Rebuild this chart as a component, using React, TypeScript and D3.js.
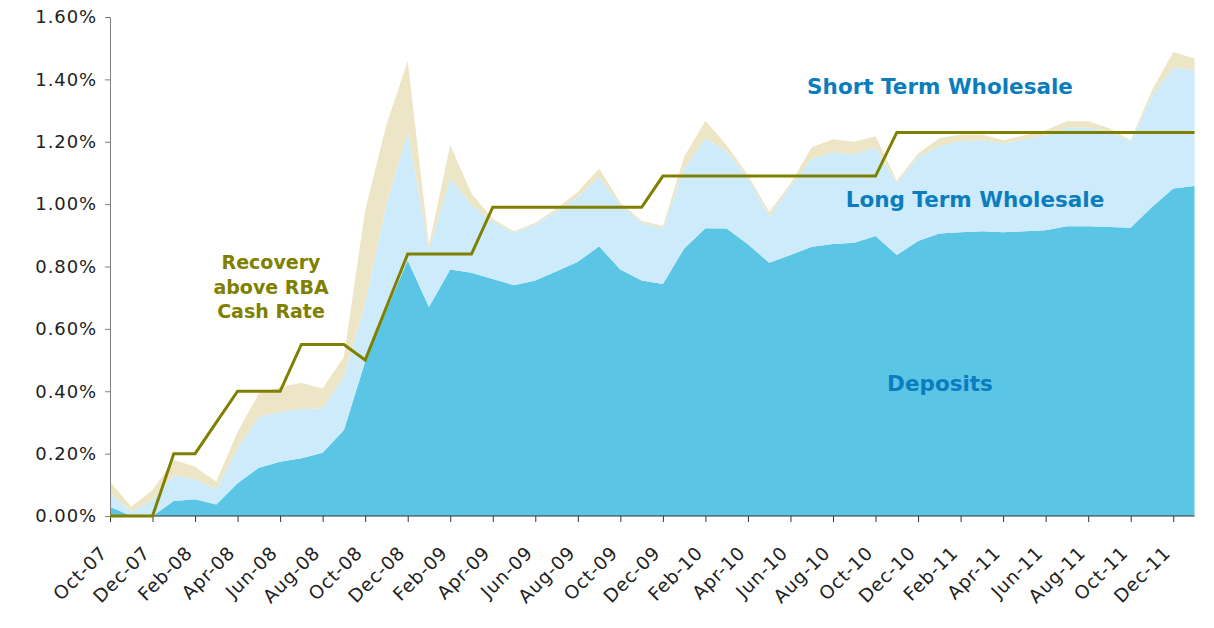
import * as d3 from "d3";
import React, { useEffect, useRef } from "react";

const months = [
  "Oct-07", "Nov-07", "Dec-07", "Jan-08", "Feb-08", "Mar-08", "Apr-08", "May-08",
  "Jun-08", "Jul-08", "Aug-08", "Sep-08", "Oct-08", "Nov-08", "Dec-08", "Jan-09",
  "Feb-09", "Mar-09", "Apr-09", "May-09", "Jun-09", "Jul-09", "Aug-09", "Sep-09",
  "Oct-09", "Nov-09", "Dec-09", "Jan-10", "Feb-10", "Mar-10", "Apr-10", "May-10",
  "Jun-10", "Jul-10", "Aug-10", "Sep-10", "Oct-10", "Nov-10", "Dec-10", "Jan-11",
  "Feb-11", "Mar-11", "Apr-11", "May-11", "Jun-11", "Jul-11", "Aug-11", "Sep-11",
  "Oct-11", "Nov-11", "Dec-11", "Jan-12",
];

const tickLabels = [
  "Oct-07", "Dec-07", "Feb-08", "Apr-08", "Jun-08", "Aug-08", "Oct-08", "Dec-08",
  "Feb-09", "Apr-09", "Jun-09", "Aug-09", "Oct-09", "Dec-09", "Feb-10", "Apr-10",
  "Jun-10", "Aug-10", "Oct-10", "Dec-10", "Feb-11", "Apr-11", "Jun-11", "Aug-11",
  "Oct-11", "Dec-11",
];

// % points, stacked bottom to top
const deposits = [
  0.030, 0.000, 0.000, 0.048, 0.054, 0.037, 0.105, 0.155, 0.174, 0.185, 0.203, 0.276,
  0.495, 0.660, 0.820, 0.670, 0.790, 0.780, 0.760, 0.740, 0.755, 0.785, 0.815, 0.865,
  0.790, 0.755, 0.744, 0.858, 0.923, 0.922, 0.871, 0.812, 0.837, 0.863, 0.872, 0.876,
  0.898, 0.837, 0.882, 0.906, 0.910, 0.913, 0.910, 0.913, 0.916, 0.929, 0.929, 0.927,
  0.924, 0.991, 1.050, 1.058,
];

const longTermWholesale = [
  0.043, 0.014, 0.051, 0.083, 0.064, 0.049, 0.112, 0.163, 0.160, 0.158, 0.142, 0.171,
  0.187, 0.340, 0.412, 0.185, 0.292, 0.217, 0.183, 0.168, 0.180, 0.193, 0.208, 0.223,
  0.208, 0.185, 0.178, 0.256, 0.288, 0.246, 0.214, 0.148, 0.221, 0.283, 0.293, 0.284,
  0.284, 0.231, 0.268, 0.280, 0.292, 0.292, 0.284, 0.294, 0.305, 0.317, 0.317, 0.305,
  0.276, 0.358, 0.388, 0.371,
];

const shortTermWholesale = [
  0.037, 0.016, 0.032, 0.049, 0.040, 0.024, 0.053, 0.075, 0.080, 0.084, 0.064, 0.064,
  0.299, 0.255, 0.227, 0.015, 0.107, 0.037, 0.009, 0.005, 0.005, 0.008, 0.016, 0.026,
  0.007, 0.007, 0.008, 0.038, 0.056, 0.021, 0.008, 0.015, 0.008, 0.036, 0.043, 0.040,
  0.036, 0.007, 0.012, 0.025, 0.021, 0.018, 0.011, 0.014, 0.016, 0.020, 0.020, 0.011,
  0.005, 0.016, 0.050, 0.038,
];

const rbaRecovery = [
  0.00, 0.00, 0.00, 0.20, 0.20, 0.30, 0.40, 0.40, 0.40, 0.55, 0.55, 0.55,
  0.50, 0.67, 0.84, 0.84, 0.84, 0.84, 0.99, 0.99, 0.99, 0.99, 0.99, 0.99,
  0.99, 0.99, 1.09, 1.09, 1.09, 1.09, 1.09, 1.09, 1.09, 1.09, 1.09, 1.09,
  1.09, 1.23, 1.23, 1.23, 1.23, 1.23, 1.23, 1.23, 1.23, 1.23, 1.23, 1.23,
  1.23, 1.23, 1.23, 1.23,
];

const seriesKeys = ["deposits", "longTerm", "shortTerm"];
const seriesColors = ["#5bc5e6", "#cdebfb", "#ece6c6"];

const App: React.FC = () => {
  const ref = useRef<SVGSVGElement>(null);

  useEffect(() => {
    const width = 1214;
    const height = 628;
    const left = 110;
    const right = 1194.5;
    const top = 17;
    const bottom = 516;
    const font = "DejaVu Sans, Verdana, sans-serif";

    const svg = d3.select(ref.current);
    svg.selectAll("*").remove();
    svg.attr("width", width).attr("height", height);

    const x = d3.scalePoint<string>().domain(months).range([left, right]);
    const y = d3.scaleLinear().domain([0, 1.6]).range([bottom, top]);

    const rows = months.map((m, i) => ({
      month: m,
      deposits: deposits[i],
      longTerm: longTermWholesale[i],
      shortTerm: shortTermWholesale[i],
    }));

    const layers = d3.stack<any>().keys(seriesKeys)(rows);

    const area = d3
      .area<any>()
      .x((d) => x(d.data.month) as number)
      .y0((d) => y(d[0]))
      .y1((d) => y(d[1]));

    svg
      .append("g")
      .selectAll("path")
      .data(layers)
      .enter()
      .append("path")
      .attr("d", (d) => area(d) as string)
      .attr("fill", (_d, i) => seriesColors[i]);

    // y axis
    const yAxis = svg
      .append("g")
      .attr("transform", `translate(${left},0)`)
      .call(
        d3
          .axisLeft(y)
          .tickValues(d3.range(0, 1.61, 0.2))
          .tickSize(5)
          .tickPadding(8)
          .tickFormat((d) => (d as number).toFixed(2) + "%"),
      );
    yAxis.select(".domain").attr("stroke", "#808080");
    yAxis.selectAll(".tick line").attr("stroke", "#808080");
    yAxis
      .selectAll("text")
      .attr("font-family", font)
      .attr("font-size", "18px")
      .attr("letter-spacing", "0.9px")
      .attr("fill", "#222");

    // x axis
    const xAxis = svg
      .append("g")
      .attr("transform", `translate(0,${bottom})`)
      .call(d3.axisBottom(x).tickValues(tickLabels).tickSize(6).tickSizeOuter(0));
    xAxis.select(".domain").attr("stroke", "#333").attr("d", `M${left},0H${right}`);
    xAxis.selectAll(".tick line").attr("stroke", "#333");
    xAxis
      .selectAll("text")
      .attr("font-family", font)
      .attr("font-size", "18.5px")
      .attr("letter-spacing", "0.8px")
      .attr("fill", "#222")
      .attr("text-anchor", "end")
      .attr("y", 0)
      .attr("dy", 0)
      .attr("transform", "translate(-2,38) rotate(-45)");

    // cash rate line
    const line = d3
      .line<number>()
      .x((_d, i) => x(months[i]) as number)
      .y((d) => y(d));
    svg
      .append("path")
      .datum(rbaRecovery)
      .attr("d", line)
      .attr("fill", "none")
      .attr("stroke", "#808000")
      .attr("stroke-width", 3)
      .attr("stroke-linejoin", "miter");

    // labels
    const blue = "#0b7dbf";
    const labels = [
      { text: "Short Term Wholesale", x: 940, y: 94 },
      { text: "Long Term Wholesale", x: 975, y: 207 },
      { text: "Deposits", x: 940, y: 391 },
    ];
    svg
      .append("g")
      .selectAll("text")
      .data(labels)
      .enter()
      .append("text")
      .attr("x", (d) => d.x)
      .attr("y", (d) => d.y)
      .attr("text-anchor", "middle")
      .attr("font-family", font)
      .attr("font-weight", "bold")
      .attr("font-size", "21.5px")
      .attr("fill", blue)
      .text((d) => d.text);

    const note = svg
      .append("text")
      .attr("text-anchor", "middle")
      .attr("font-family", font)
      .attr("font-weight", "bold")
      .attr("font-size", "19px")
      .attr("fill", "#808000");
    ["Recovery", "above RBA", "Cash Rate"].forEach((t, i) => {
      note
        .append("tspan")
        .attr("x", 271)
        .attr("y", 269 + i * 24.5)
        .text(t);
    });
  }, []);

  return (
    <svg
      ref={ref}
      style={{ position: "absolute", left: 0, top: 0, display: "block" }}
    />
  );
};

export default App;
